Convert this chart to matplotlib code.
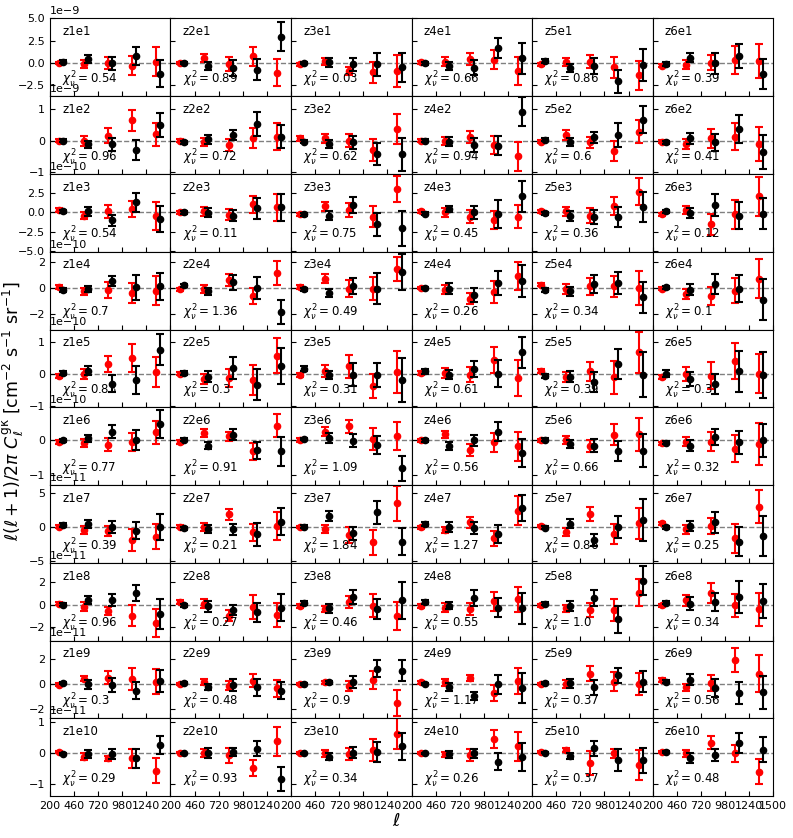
import numpy as np
import matplotlib
matplotlib.use("Agg")
import matplotlib.pyplot as plt
from matplotlib.ticker import MultipleLocator

# multipole bin centres
ell = [320, 586, 848, 1108, 1370]
zbins = ['z1', 'z2', 'z3', 'z4', 'z5', 'z6']
ebins = ['e1', 'e2', 'e3', 'e4', 'e5', 'e6', 'e7', 'e8', 'e9', 'e10']
# y unit of every row (shown as offset text)
row_scale = [1e-9, 1e-9, 1e-10, 1e-10, 1e-10, 1e-10, 1e-11, 1e-11, 1e-11, 1e-11]

# reduced chi^2 per panel [row][col]
chi2 = [
    [0.54, 0.89, 0.03, 0.66, 0.86, 0.39],
    [0.96, 0.72, 0.62, 0.94, 0.6, 0.41],
    [0.54, 0.11, 0.75, 0.45, 0.36, 0.12],
    [0.7, 1.36, 0.49, 0.26, 0.34, 0.1],
    [0.83, 0.3, 0.31, 0.61, 0.39, 0.3],
    [0.77, 0.91, 1.09, 0.56, 0.66, 0.32],
    [0.39, 0.21, 1.84, 1.27, 0.86, 0.25],
    [0.96, 0.27, 0.46, 0.55, 1.0, 0.34],
    [0.3, 0.48, 0.9, 1.17, 0.37, 0.56],
    [0.29, 0.93, 0.34, 0.26, 0.37, 0.48],
]

# red points, in units of row_scale [row][col][bin]
red_val = [
    [[0, -0.1, 0, -0.3, 0.15], [0, 0.6, -0.15, 0.75, -1.1], [-0.15, 0.2, -0.9, -1.05, -0.9],
     [0.05, 0.15, 0.45, 0.35, -0.9], [-0.15, 0.05, 0.15, -0.5, -1.4], [-0.3, -0.2, 0, 0.35, 0.2]],
    [[0, 0, 0.16, 0.64, 0.2], [0, -0.05, -0.14, 0.07, 0.13], [0.07, 0.07, 0, -0.3, 0.37],
     [0, 0, 0.12, -0.14, -0.5], [-0.04, 0.18, -0.06, -0.33, 0.28], [-0.03, -0.12, 0.07, 0.13, -0.12]],
    [[0.3, -0.43, 0.1, 0.43, -0.47], [0, 0.1, -0.35, 1.0, 0.6], [-0.25, 0.73, 0.3, -0.55, 2.95],
     [0.1, 0, -0.55, -1.0, -0.55], [0.1, 0.1, -0.43, 0.8, 2.6], [-0.25, 0.3, -1.55, -0.25, 2.0]],
    [[0.08, -0.26, -0.13, -0.38, -0.2], [-0.08, -0.05, 0.6, -0.6, 1.13], [0.08, 0.72, -0.05, -0.05, 1.46],
     [0, -0.13, -0.82, -0.31, 0.95], [0.26, -0.08, 0.13, 0.13, 0], [-0.05, -0.46, -0.64, -0.2, 0.72]],
    [[-0.06, 0, 0.3, 0.49, 0.05], [0, -0.17, -0.14, -0.21, 0.56], [-0.03, 0.09, 0.23, -0.38, 0.05],
     [0.02, 0.02, -0.03, 0.42, -0.14], [0.09, -0.11, 0.07, -0.11, 0.67], [-0.11, 0, -0.06, 0.39, 0]],
    [[-0.05, -0.08, -0.13, -0.05, 0.24], [-0.05, 0.21, 0.12, -0.32, 0.43], [0.02, 0.26, 0.41, 0.04, 0.12],
     [0, 0.18, -0.27, -0.05, -0.17], [0, 0.02, -0.17, 0.17, 0.18], [-0.08, -0.03, -0.03, -0.24, -0.11]],
    [[0.1, -0.4, -0.5, -1.86, -1.37], [0.1, 0.1, 1.9, -0.74, 0.2], [0.05, -0.25, -1.13, -2.2, 3.53],
     [0, -0.4, 0.74, -1.62, 2.45], [0.2, -0.74, 1.96, -1.03, 0.59], [0.59, -0.25, 0.2, -1.62, 3.04]],
    [[0.09, -0.2, -0.54, -0.97, -1.63], [0.23, 0.09, -0.97, -0.2, -0.91], [-0.14, -0.4, 0.23, -0.11, -1.0],
     [-0.14, -0.26, -0.4, 0.29, 0.46], [-0.06, -0.34, -0.49, -0.49, 1.03], [-0.06, 0.37, 1.0, -0.06, -0.4]],
    [[-0.05, 0.45, 0.53, 0.4, 0.21], [0, 0.19, -0.13, 0.27, -0.35], [0, 0.13, -0.13, 0.35, -1.52],
     [0.13, 0.13, 0.53, -0.72, 0.27], [0, 0, 0.85, 0.19, 0], [0.35, -0.27, 0.08, 1.92, 0.85]],
    [[0.04, -0.11, -0.17, -0.17, -0.57], [0.02, 0, -0.06, -0.48, 0.38], [0, 0, -0.03, 0.11, 0.63],
     [0, -0.03, -0.05, 0.45, 0.22], [0.04, 0.11, -0.32, -0.01, -0.38], [0.04, 0, 0.34, 0, -0.59]],
]
red_err = [
    [[0.15, 0.45, 0.7, 1.1, 1.6], [0.15, 0.45, 0.8, 1.07, 1.5], [0.15, 0.4, 0.45, 1.2, 1.8],
     [0.2, 0.55, 0.65, 1.05, 1.6], [0.15, 0.45, 0.7, 1.15, 1.6], [0.2, 0.5, 0.85, 1.6, 1.9]],
    [[0.05, 0.16, 0.24, 0.33, 0.37], [0.05, 0.12, 0.2, 0.32, 0.44], [0.07, 0.14, 0.2, 0.35, 0.47],
     [0.05, 0.13, 0.2, 0.29, 0.46], [0.05, 0.16, 0.18, 0.33, 0.36], [0.05, 0.16, 0.3, 0.42, 0.54]],
    [[0.26, 0.5, 0.8, 1.0, 1.77], [0.2, 0.55, 0.7, 1.1, 1.7], [0.2, 0.55, 0.85, 1.28, 1.65],
     [0.2, 0.58, 0.85, 1.13, 1.45], [0.2, 0.53, 0.96, 1.13, 1.7], [0.2, 0.53, 1.3, 1.86, 2.5]],
    [[0.14, 0.26, 0.62, 0.77, 1.09], [0.12, 0.32, 0.45, 0.6, 0.92], [0.12, 0.35, 0.68, 0.9, 0.9],
     [0.1, 0.33, 0.42, 0.83, 1.09], [0.12, 0.38, 0.64, 0.83, 1.28], [0.12, 0.35, 0.7, 0.96, 1.5]],
    [[0.06, 0.16, 0.25, 0.45, 0.47], [0.05, 0.15, 0.29, 0.47, 0.55], [0.06, 0.18, 0.36, 0.38, 0.66],
     [0.07, 0.16, 0.23, 0.41, 0.56], [0.07, 0.16, 0.29, 0.52, 0.64], [0.07, 0.22, 0.42, 0.56, 0.61]],
    [[0.05, 0.11, 0.19, 0.26, 0.34], [0.05, 0.12, 0.14, 0.25, 0.33], [0.05, 0.12, 0.2, 0.33, 0.41],
     [0.05, 0.11, 0.17, 0.28, 0.43], [0.05, 0.12, 0.18, 0.3, 0.48], [0.05, 0.13, 0.27, 0.4, 0.61]],
    [[0.2, 0.54, 0.74, 1.67, 1.86], [0.2, 0.6, 0.86, 1.2, 2.1], [0.2, 0.6, 1.23, 1.84, 2.57],
     [0.2, 0.5, 0.8, 1.08, 2.16], [0.2, 0.6, 0.98, 1.47, 2.25], [0.25, 0.66, 1.23, 2.1, 2.45]],
    [[0.15, 0.4, 0.36, 0.91, 1.21], [0.2, 0.4, 0.5, 1.07, 1.07], [0.15, 0.25, 0.54, 1.0, 1.21],
     [0.15, 0.39, 0.53, 0.83, 1.1], [0.12, 0.31, 0.64, 0.96, 1.17], [0.15, 0.46, 0.86, 1.0, 1.44]],
    [[0.12, 0.2, 0.5, 0.9, 1.0], [0.1, 0.24, 0.35, 0.53, 0.68], [0.1, 0.16, 0.4, 0.73, 1.07],
     [0.1, 0.31, 0.24, 0.64, 1.03], [0.1, 0.33, 0.57, 0.77, 0.91], [0.15, 0.27, 0.67, 0.97, 1.51]],
    [[0.03, 0.1, 0.09, 0.3, 0.4], [0.03, 0.12, 0.24, 0.26, 0.46], [0.03, 0.11, 0.19, 0.35, 0.5],
     [0.03, 0.08, 0.19, 0.28, 0.46], [0.04, 0.06, 0.38, 0.16, 0.48], [0.04, 0.11, 0.2, 0.27, 0.39]],
]

# black points
blk_val = [
    [[0.15, 0.45, -0.05, 0.8, -1.2], [0, -0.3, -0.6, -0.75, 2.95], [0, 0.05, -0.15, -0.15, -0.5],
     [-0.05, -0.4, -0.55, 1.65, 0.5], [0.2, -0.55, -0.4, -2.05, -0.2], [-0.15, 0.6, -0.05, 0.8, -1.25]],
    [[0, -0.12, -0.12, -0.3, 0.5], [-0.06, 0.04, 0.18, 0.53, 0.13], [-0.03, -0.12, -0.06, -0.43, -0.43],
     [0, -0.03, -0.14, -0.16, 0.92], [0.03, -0.04, 0.1, 0.18, 0.67], [-0.06, 0.07, -0.05, 0.37, -0.37]],
    [[0.1, 0.1, -1.0, 1.28, -0.85], [0, -0.05, -0.43, 0.5, 0.6], [-0.25, -0.43, 0.95, -1.55, -2.05],
     [-0.17, 0.38, 0, -0.25, 2.0], [-0.13, -0.47, -0.64, -0.6, 0.64], [0.1, -0.05, 0.94, -0.43, -0.2]],
    [[-0.15, -0.08, 0.56, 0.05, 0.13], [0.2, -0.26, 0.44, 0, -1.85], [-0.08, -0.38, 0.13, -0.05, 1.23],
     [0, -0.05, -0.56, 0.38, 0.51], [-0.15, -0.26, 0.31, 0.38, -0.72], [0.05, -0.13, 0.31, -0.05, -0.9]],
    [[0.02, 0.09, -0.31, -0.19, 0.75], [0.02, -0.1, 0.18, -0.34, 0.23], [0.15, -0.05, -0.03, -0.05, -0.19],
     [0.07, -0.03, 0.15, 0, 0.67], [-0.08, -0.1, -0.26, 0.3, -0.03], [0, -0.16, -0.31, 0.07, -0.03]],
    [[0.01, 0.07, 0.26, 0.02, 0.48], [0.02, -0.15, 0.17, -0.29, -0.32], [0.04, 0.07, -0.01, -0.13, -0.81],
     [0, -0.15, 0, 0.26, -0.37], [0.02, -0.11, -0.15, -0.3, -0.3], [-0.06, -0.15, 0.1, -0.05, 0]],
    [[0.34, 0.44, 0.1, -0.5, 0.1], [-0.15, -0.25, -0.3, -1.03, 0.83], [0.1, 1.67, -0.88, 2.2, -2.1],
     [0.49, 0.1, -0.15, -0.98, 2.8], [-0.05, 0.49, -1.86, 0, 1.08], [0, 0.25, 0.74, -2.1, -1.27]],
    [[0, 0.37, 0.43, 1.03, -0.83], [-0.06, -0.14, -0.49, -0.69, -0.26], [0.14, -0.34, 0.66, -0.4, 0.37],
     [0.23, -0.11, 0.57, -0.26, -0.34], [0.09, -0.11, 0.6, -1.29, 2.09], [0.17, 0.09, 0.23, 0.66, 0.31]],
    [[0.08, 0, -0.08, -0.53, 0.27], [0.08, -0.21, -0.05, -0.27, -0.53], [0, 0.13, 0.19, 1.25, 1.07],
     [0, -0.27, -0.93, 0, -0.32], [0.08, 0.05, -0.27, 0.72, 0.21], [0.19, 0.35, -0.32, -0.72, -0.67]],
    [[-0.02, -0.03, -0.03, -0.16, 0.26], [-0.01, 0, 0.04, 0.15, -0.84], [-0.01, -0.12, 0.02, 0.04, 0.22],
     [-0.01, -0.03, -0.01, -0.27, -0.12], [0.02, -0.09, 0.16, -0.23, -0.23], [0.04, -0.17, -0.06, 0.34, 0.11]],
]
blk_err = [
    [[0.2, 0.45, 0.7, 1.0, 1.5], [0.15, 0.45, 0.9, 1.2, 1.6], [0.15, 0.55, 0.75, 1.3, 1.6],
     [0.2, 0.45, 0.85, 1.15, 1.7], [0.2, 0.45, 0.9, 1.3, 1.8], [0.2, 0.55, 1.15, 1.35, 1.65]],
    [[0.05, 0.1, 0.2, 0.33, 0.37], [0.05, 0.14, 0.17, 0.38, 0.38], [0.06, 0.13, 0.21, 0.35, 0.52],
     [0.05, 0.13, 0.21, 0.3, 0.46], [0.05, 0.12, 0.18, 0.37, 0.44], [0.05, 0.17, 0.27, 0.44, 0.54]],
    [[0.2, 0.6, 0.7, 1.2, 1.65], [0.2, 0.58, 0.7, 1.37, 1.75], [0.2, 0.58, 1.0, 1.45, 2.25],
     [0.2, 0.4, 0.83, 1.75, 1.97], [0.2, 0.64, 0.92, 1.3, 1.92], [0.2, 0.64, 1.4, 1.75, 2.0]],
    [[0.14, 0.26, 0.38, 0.96, 1.05], [0.1, 0.26, 0.6, 0.82, 0.96], [0.12, 0.33, 0.62, 1.2, 1.4],
     [0.1, 0.42, 0.55, 0.9, 1.23], [0.12, 0.33, 0.7, 0.83, 1.19], [0.12, 0.41, 0.8, 1.03, 1.6]],
    [[0.07, 0.14, 0.27, 0.43, 0.49], [0.05, 0.17, 0.34, 0.48, 0.56], [0.08, 0.13, 0.36, 0.38, 0.69],
     [0.07, 0.15, 0.26, 0.43, 0.48], [0.07, 0.17, 0.32, 0.47, 0.71], [0.1, 0.21, 0.31, 0.64, 0.72]],
    [[0.04, 0.1, 0.18, 0.3, 0.4], [0.04, 0.1, 0.17, 0.25, 0.41], [0.04, 0.14, 0.19, 0.26, 0.37],
     [0.04, 0.12, 0.17, 0.28, 0.41], [0.04, 0.11, 0.18, 0.29, 0.48], [0.05, 0.15, 0.24, 0.34, 0.48]],
    [[0.25, 0.6, 0.88, 1.25, 1.9], [0.2, 0.54, 0.8, 1.7, 1.96], [0.2, 0.74, 0.98, 1.7, 1.96],
     [0.25, 0.74, 0.88, 1.35, 1.9], [0.2, 0.66, 0.86, 1.6, 3.06], [0.25, 0.74, 1.52, 2.16, 3.0]],
    [[0.1, 0.36, 0.53, 0.7, 1.29], [0.12, 0.47, 0.46, 0.81, 1.21], [0.15, 0.4, 0.64, 0.89, 1.64],
     [0.2, 0.29, 0.67, 0.86, 1.34], [0.15, 0.43, 0.71, 1.17, 1.29], [0.15, 0.54, 0.81, 1.4, 1.5]],
    [[0.1, 0.36, 0.57, 0.67, 0.87], [0.08, 0.23, 0.49, 0.67, 0.69], [0.08, 0.16, 0.47, 0.71, 0.83],
     [0.08, 0.32, 0.33, 0.76, 1.2], [0.08, 0.39, 0.6, 0.6, 0.87], [0.12, 0.44, 0.71, 0.87, 1.31]],
    [[0.03, 0.12, 0.16, 0.31, 0.3], [0.03, 0.16, 0.13, 0.23, 0.39], [0.03, 0.11, 0.19, 0.33, 0.44],
     [0.03, 0.11, 0.14, 0.28, 0.45], [0.03, 0.11, 0.24, 0.35, 0.4], [0.03, 0.16, 0.19, 0.32, 0.4]],
]

# per-row y range (row units) and tick step
row_ylim = [(-3.75, 5.0), (-1.06, 1.41), (-5.04, 4.87), (-3.2, 2.8), (-1.05, 1.38),
            (-1.3, 0.97), (-5.2, 6.2), (-3.15, 3.65), (-2.75, 3.5), (-1.38, 1.12)]
row_step = [2.5, 1, 2.5, 2, 1, 1, 5, 2, 2, 1]

shift = 22
nrow, ncol = len(ebins), len(zbins)

fig, axes = plt.subplots(nrow, ncol, figsize=(7.93, 8.38), dpi=100, sharey='row')
fig.subplots_adjust(left=0.063, right=0.975, top=0.978, bottom=0.05, wspace=0, hspace=0)

for i in range(nrow):
    s = row_scale[i]
    for j in range(ncol):
        ax = axes[i, j]
        ax.axhline(0, color='grey', ls='--', lw=1, zorder=1)
        xr = [l - shift for l in ell]
        xb = [l + shift for l in ell]
        ax.errorbar(xr, np.array(red_val[i][j]) * s, yerr=np.array(red_err[i][j]) * s,
                    fmt='o', color='red', ms=4.5, capsize=3, elinewidth=1.5, capthick=1.5, zorder=2)
        ax.errorbar(xb, np.array(blk_val[i][j]) * s, yerr=np.array(blk_err[i][j]) * s,
                    fmt='o', color='black', ms=4.5, capsize=3, elinewidth=1.5, capthick=1.5, zorder=3)
        ax.text(0.1, 0.83, zbins[j] + ebins[i], transform=ax.transAxes, fontsize=8.5, va='center')
        ax.text(0.1, 0.21, r'$\chi^2_\nu = %s$' % chi2[i][j], transform=ax.transAxes,
                fontsize=8.5, va='center')
        ax.set_xlim(200, 1500)
        if j == ncol - 1:
            ax.set_xticks([200, 460, 720, 980, 1240, 1500])
        else:
            ax.set_xticks([200, 460, 720, 980, 1240])
        if i < nrow - 1:
            ax.tick_params(labelbottom=False)
        ax.tick_params(direction='in', labelsize=8)
    axes[i, 0].set_ylim(row_ylim[i][0] * s, row_ylim[i][1] * s)
    axes[i, 0].yaxis.set_major_locator(MultipleLocator(row_step[i] * s))
    axes[i, 0].yaxis.get_offset_text().set_fontsize(8)

fig.text(0.017, 0.51, r'$\ell(\ell+1)/2\pi\ C_\ell^{\rm g\kappa}$ [cm$^{-2}$ s$^{-1}$ sr$^{-1}$]',
         rotation=90, va='center', ha='center', fontsize=12.5)
fig.text(0.5, 0.02, r'$\ell$', ha='center', va='center', fontsize=13)

fig.savefig('out.png', dpi=100)
